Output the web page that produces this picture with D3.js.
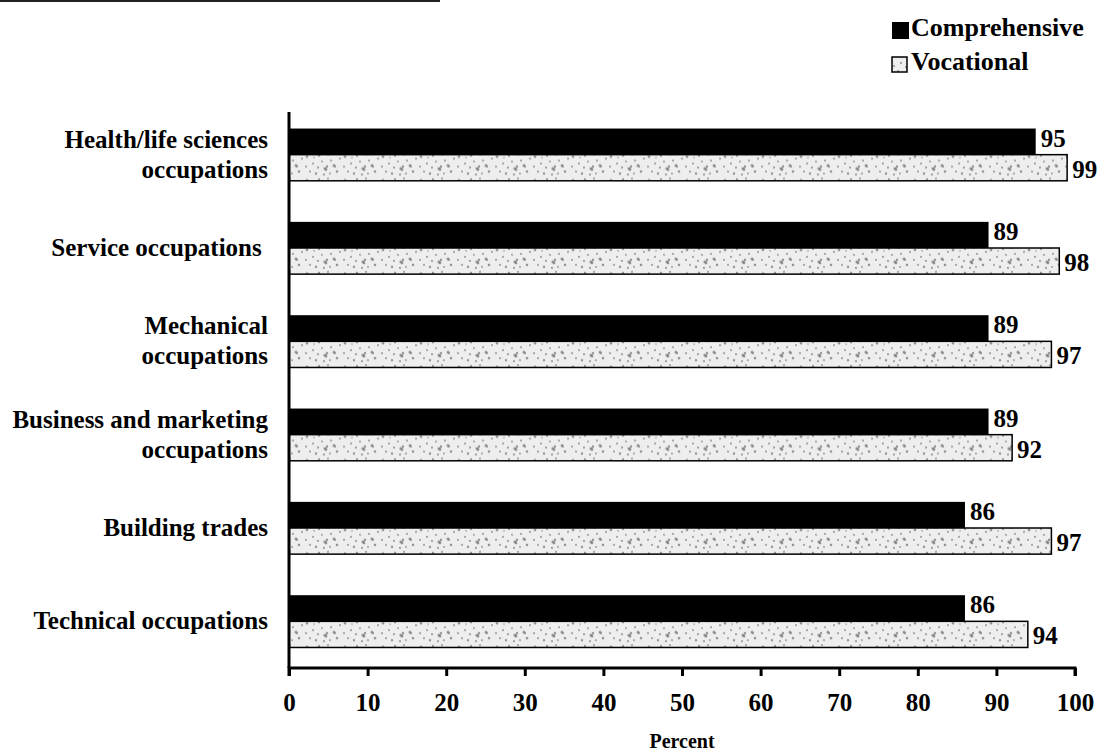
<!DOCTYPE html>
<html>
<head>
<meta charset="utf-8">
<script src="https://cdn.jsdelivr.net/npm/d3@7/dist/d3.min.js"></script>
<style>
  html, body { margin: 0; padding: 0; background: #fff; }
  svg { display: block; }
  text { font-family: "Liberation Serif", "Times New Roman", serif; font-weight: bold; fill: #000; }
</style>
</head>
<body>
<svg id="chart" width="1098" height="753"></svg>
<script>
// Occupational program areas (top to bottom), label lines
const categories = [
  ["Health/life sciences", "occupations"],
  ["Service occupations "],
  ["Mechanical", "occupations"],
  ["Business and marketing", "occupations"],
  ["Building trades"],
  ["Technical occupations"]
];
const seriesNames = ["Comprehensive", "Vocational"];
const comprehensive = [95, 89, 89, 89, 86, 86];
const vocational = [99, 98, 97, 92, 97, 94];
const xTicks = [0, 10, 20, 30, 40, 50, 60, 70, 80, 90, 100];
const xTitle = "Percent";

const svg = d3.select("#chart");
const m = { left: 289, right: 1075, top: 108, bottom: 668 };

// Stippled light fill for the vocational bars
const defs = svg.append("defs");
const pat = defs.append("pattern")
  .attr("id", "stipple")
  .attr("patternUnits", "userSpaceOnUse")
  .attr("width", 38).attr("height", 24);
pat.append("rect").attr("width", 38).attr("height", 24).attr("fill", "#eeeeee");
const dots = [[3,4,1.4],[9,11,1],[15,3,1.2],[21,16,1.6],[27,8,1],[33,19,1.3],[6,19,1],[12,21,1.2],
              [18,9,0.9],[24,2,1],[30,13,1.5],[36,6,1],[2,14,1],[14,15,1.1],[26,21,0.9],[20,22,1.1],
              [22,17,1.4],[23,14,1.2],[31,14,1.1],[10,5,0.8]];
pat.selectAll("circle").data(dots).join("circle")
  .attr("cx", d => d[0]).attr("cy", d => d[1]).attr("r", d => d[2])
  .attr("fill", "#7a7a7a").attr("opacity", 0.8);

// Rule along the top edge
svg.append("line")
  .attr("x1", 0).attr("x2", 440).attr("y1", 1).attr("y2", 1)
  .attr("stroke", "#222").attr("stroke-width", 2);

const x = d3.scaleLinear().domain([0, 100]).range([m.left, m.right]);
const y = d3.scaleBand()
  .domain(d3.range(categories.length))
  .range([m.top, m.bottom])
  .paddingInner(0.44).paddingOuter(0.22);
const ySub = d3.scaleBand().domain(seriesNames).range([0, y.bandwidth()]);

const rows = categories.map((c, i) => ({ i, label: c, values: [comprehensive[i], vocational[i]] }));

const grp = svg.append("g").selectAll("g.grp").data(rows).join("g")
  .attr("class", "grp")
  .attr("transform", d => `translate(0,${y(d.i)})`);

grp.selectAll("rect").data(d => d.values.map((v, k) => ({ v, k }))).join("rect")
  .attr("x", x(0))
  .attr("y", d => ySub(seriesNames[d.k]))
  .attr("width", d => x(d.v) - x(0))
  .attr("height", ySub.bandwidth())
  .attr("fill", d => d.k === 0 ? "#000" : "url(#stipple)")
  .attr("stroke", d => d.k === 0 ? "none" : "#000")
  .attr("stroke-width", 1.5);

// Value labels at bar ends
grp.selectAll("text.val").data(d => d.values.map((v, k) => ({ v, k }))).join("text")
  .attr("class", "val")
  .attr("x", d => x(d.v) + 5)
  .attr("y", d => ySub(seriesNames[d.k]) + ySub.bandwidth() / 2 + (d.k === 0 ? 5 : 10))
  .attr("font-size", 25)
  .text(d => d.v);

// Category labels
grp.append("text")
  .attr("class", "cat")
  .attr("text-anchor", "end")
  .attr("font-size", 25)
  .attr("xml:space", "preserve")
  .style("white-space", "pre")
  .each(function (d) {
    const t = d3.select(this);
    const n = d.label.length;
    const lh = 30;
    const c = y.bandwidth() / 2;
    d.label.forEach((line, j) => {
      t.append("tspan")
        .attr("x", 268)
        .attr("y", c + 8 + (j - (n - 1) / 2) * lh)
        .text(line);
    });
  });

// Axes
const xAxis = d3.axisBottom(x).tickValues(xTicks).tickSize(8).tickPadding(17).tickFormat(d3.format("d"));
const ax = svg.append("g").attr("transform", `translate(0,${m.bottom})`).call(xAxis);
ax.select(".domain").attr("stroke", "#000").attr("stroke-width", 3)
  .attr("d", `M${m.left},8V0H${m.right}V8`);
ax.selectAll(".tick line").attr("stroke", "#000").attr("stroke-width", 3);
ax.selectAll(".tick text")
  .attr("font-size", 25)
  .style("font-family", '"Liberation Serif", "Times New Roman", serif')
  .style("font-weight", "bold")
  .attr("fill", "#000");

svg.append("line")
  .attr("x1", m.left).attr("x2", m.left)
  .attr("y1", 112).attr("y2", m.bottom)
  .attr("stroke", "#000").attr("stroke-width", 3);

svg.append("text")
  .attr("x", (m.left + m.right) / 2).attr("y", 748)
  .attr("text-anchor", "middle").attr("font-size", 20)
  .text(xTitle);

// Legend
const legend = svg.append("g").attr("transform", "translate(892,18)");
seriesNames.forEach((name, k) => {
  const row = legend.append("g").attr("transform", `translate(0,${k * 34})`);
  row.append("rect")
    .attr("x", 0).attr("y", k === 0 ? 4 : 5)
    .attr("width", k === 0 ? 17 : 15).attr("height", k === 0 ? 17 : 15)
    .attr("fill", k === 0 ? "#000" : "url(#stipple)")
    .attr("stroke", k === 0 ? "none" : "#000").attr("stroke-width", 1.5);
  row.append("text").attr("x", 19).attr("y", 18).attr("font-size", 26).text(name);
});
</script>
</body>
</html>
